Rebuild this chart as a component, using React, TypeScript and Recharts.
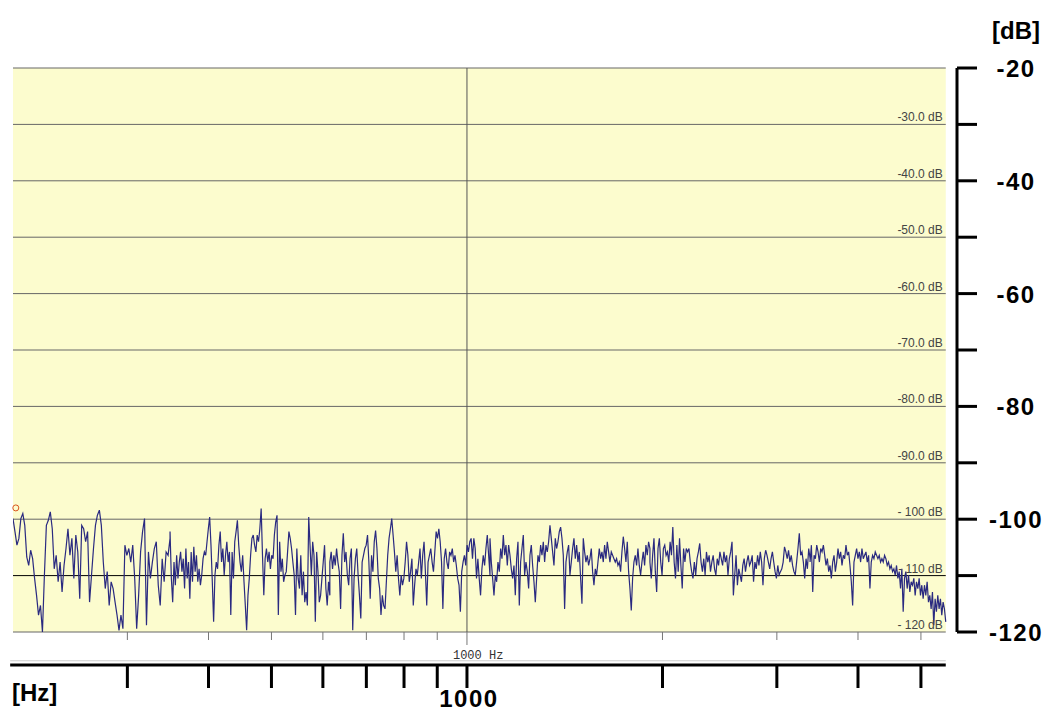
import React from 'react';
import { LineChart, Line, XAxis, YAxis, ReferenceLine, ReferenceArea, ReferenceDot } from 'recharts';

// spectrum, one array per stretch of the frequency axis
const bandEdgesHz = [200, 349, 615, 1085, 1913, 3375, 5460];

const db200to349 = [
  -99.9, -102.2, -104.6, -103.4, -99.9, -99.0, -101.1, -106.7, -108.2, -105.5,
  -107.0, -110.5, -113.5, -117.0, -115.3, -120.0, -109.9, -101.1, -100.2, -98.7,
  -101.7, -108.8, -106.4, -111.1, -107.6, -112.9, -108.2, -105.2, -101.7, -106.4,
  -103.4, -110.5, -102.8, -105.8, -114.1, -101.1, -101.7, -104.0, -102.2, -114.7,
  -109.9, -105.2, -101.1, -99.3, -98.4, -101.1, -107.6, -112.3, -109.3, -115.3,
  -111.1, -112.3, -114.7, -117.0, -119.7, -117.0, -119.4, -104.6, -106.4, -105.2,
  -107.6, -104.6, -110.5, -119.4, -113.5, -105.8, -102.2, -99.9, -118.8, -105.8,
  -110.5, -107.6, -105.2, -104.0, -111.7, -115.3, -107.0, -111.1, -105.8, -106.4,
  -103.4,
];

const db349to615 = [
  -102.2, -110.5, -114.7, -107.6, -111.7, -106.4, -110.5, -107.6, -105.8, -109.3,
  -107.0, -112.3, -105.2, -110.5, -107.6, -114.1, -105.8, -111.1, -104.9, -109.3,
  -106.4, -111.1, -108.8, -111.7, -109.9, -107.0, -105.8, -106.4, -104.0, -101.7,
  -99.6, -104.6, -111.1, -118.2, -109.9, -107.6, -108.8, -104.6, -102.2, -107.6,
  -105.2, -109.9, -106.4, -104.0, -107.6, -105.8, -117.0, -105.8, -110.5, -104.0,
  -102.2, -100.2, -104.6, -107.6, -109.3, -106.4, -111.1, -115.3, -119.7, -113.5,
  -110.5, -106.4, -103.4, -102.8, -104.6, -105.8, -102.8, -104.0, -101.7, -98.1,
  -106.4, -113.5, -107.0, -105.2, -107.6, -105.8, -108.8, -106.4, -107.0, -102.8,
  -100.5, -99.3, -117.0, -104.0, -109.3, -107.0, -111.1, -109.9, -109.3, -105.8,
  -102.2, -103.4, -105.2, -107.6, -109.9, -117.0, -105.2, -110.5, -112.3, -106.4,
  -113.5, -109.3, -114.7, -112.9, -115.3, -99.6, -104.6, -109.9, -104.0, -106.4,
  -118.2, -105.8, -109.3, -114.7, -113.5, -110.5, -107.6, -104.6, -112.3, -115.3,
  -111.1, -113.5,
];

const db615to1085 = [
  -107.6, -105.8, -108.8, -106.4, -108.2, -105.2, -107.6, -109.3, -115.9, -106.4,
  -102.5, -107.6, -105.8, -109.9, -111.7, -107.0, -105.2, -119.7, -110.5, -107.0,
  -105.2, -109.9, -113.5, -117.6, -107.6, -106.4, -105.2, -104.6, -102.8, -107.6,
  -114.1, -106.4, -109.3, -104.0, -102.0, -105.2, -110.5, -112.3, -117.0, -113.5,
  -115.3, -115.9, -111.1, -106.4, -103.4, -101.7, -99.9, -102.8, -105.8, -109.3,
  -106.4, -110.5, -113.5, -109.9, -111.7, -110.5, -107.6, -104.0, -106.4, -111.1,
  -109.3, -107.0, -115.3, -111.7, -108.8, -109.9, -107.6, -105.2, -110.5, -106.4,
  -104.0, -109.3, -115.3, -107.6, -106.4, -105.2, -107.6, -109.3, -105.8, -102.2,
  -103.4, -101.7, -104.0, -107.6, -115.9, -107.0, -105.2, -107.6, -108.8, -105.8,
  -106.4, -105.2, -107.6, -106.4, -108.2, -110.5, -111.7, -116.4, -109.3, -107.6,
  -106.4, -108.2, -104.6, -105.8, -104.0, -103.4, -107.0, -103.4, -105.2, -110.5,
  -107.0, -110.5, -113.5, -108.8, -106.4, -108.2, -105.2, -102.8, -106.4, -109.9,
];

const db1085to1913 = [
  -103.4, -107.6, -110.5, -113.5, -109.9, -111.1, -107.6, -109.3, -105.2, -107.0,
  -102.8, -106.4, -104.6, -108.2, -104.6, -106.4, -108.8, -110.5, -108.2, -113.5,
  -107.0, -104.0, -115.3, -107.6, -105.2, -102.8, -109.9, -107.6, -109.3, -112.3,
  -106.4, -104.6, -108.2, -111.1, -114.7, -110.5, -106.4, -107.6, -104.6, -106.4,
  -104.0, -107.6, -104.6, -105.8, -104.0, -101.1, -103.4, -105.8, -108.2, -103.4,
  -105.2, -104.0, -102.2, -101.4, -103.4, -106.4, -115.9, -107.6, -105.8, -104.6,
  -109.9, -107.6, -105.2, -103.4, -107.0, -104.6, -107.6, -105.8, -110.5, -115.0,
  -103.4, -105.8, -107.6, -106.4, -108.2, -107.0, -105.2, -109.3, -111.7, -108.8,
  -109.9, -107.6, -105.2, -107.0, -105.8, -107.6, -104.6, -107.0, -104.0, -105.8,
  -107.6, -105.8, -106.4, -107.0, -107.6, -107.0, -108.2, -107.6, -109.3, -105.8,
  -103.1, -105.2, -107.6, -104.0, -109.3, -112.3, -116.2, -110.5, -107.6, -106.4,
  -108.2, -105.2, -108.2, -109.9, -107.6, -105.8, -108.2, -104.6, -106.4, -104.0,
  -105.2,
];

const db1913to3375 = [
  -107.6, -110.5, -106.4, -103.4, -109.3, -112.9, -105.2, -103.4, -107.6, -109.9,
  -105.2, -104.6, -106.4, -105.8, -107.6, -104.0, -106.4, -101.4, -107.6, -110.5,
  -104.6, -109.3, -103.4, -108.2, -112.3, -105.2, -107.6, -105.2, -105.8, -105.2,
  -107.6, -109.3, -110.5, -107.6, -109.9, -107.0, -105.8, -104.3, -107.6, -109.3,
  -107.0, -109.9, -105.8, -107.6, -106.4, -109.3, -107.6, -106.4, -108.8, -109.9,
  -107.0, -108.2, -105.8, -107.0, -108.2, -105.8, -107.6, -106.4, -109.9, -107.0,
  -105.8, -104.0, -113.5, -109.9, -106.4, -111.7, -108.8, -109.9, -111.1, -108.2,
  -107.0, -109.3, -107.6, -106.4, -108.2, -107.6, -106.4, -111.1, -107.6, -108.8,
  -106.4, -108.2, -105.8, -107.6, -111.7, -107.0, -105.5, -106.4, -107.6, -108.8,
  -107.0, -105.8, -107.6, -109.3, -110.5, -108.2, -109.9, -109.3, -108.8, -107.6,
  -104.9, -105.8, -107.0, -105.5, -107.6, -106.4, -108.2, -109.3, -109.9, -107.6,
  -105.2, -102.5, -106.4, -105.8, -107.6, -110.5, -107.0, -108.8, -105.2, -107.0,
];

const db3375to5460 = [
  -107.6, -104.6, -112.9, -106.4, -107.0, -104.6, -105.8, -107.6, -105.2, -105.8,
  -104.6, -106.4, -108.2, -107.0, -109.3, -108.2, -110.5, -107.6, -106.4, -109.3,
  -107.6, -105.2, -107.0, -105.8, -108.2, -106.4, -107.0, -104.6, -106.4, -105.8,
  -108.2, -111.1, -115.3, -107.6, -106.4, -105.2, -107.0, -105.8, -107.6, -105.2,
  -107.0, -106.4, -105.8, -107.6, -106.4, -112.3, -107.6, -106.4, -107.0, -105.8,
  -106.4, -107.0, -106.4, -107.6, -107.0, -107.6, -106.4, -107.0, -108.2, -107.6,
  -108.8, -108.2, -109.3, -108.8, -109.9, -108.2, -110.5, -109.3, -112.3, -108.8,
  -116.4, -110.5, -109.3, -112.3, -109.9, -112.9, -111.1, -111.7, -110.5, -113.5,
  -111.1, -112.3, -110.5, -113.5, -111.7, -114.1, -111.7, -113.5, -111.1, -114.7,
  -113.5, -115.9, -112.9, -118.8, -114.1, -116.4, -113.5, -115.9, -114.1, -117.0,
  -114.7, -115.9, -118.2,
];

const dbBands = [db200to349, db349to615, db615to1085, db1085to1913, db1913to3375, db3375to5460];

// axis labels
const dbTicks = [-120, -110, -100, -90, -80, -70, -60, -50, -40, -30, -20];
const gridLevels = [-120, -110, -100, -90, -80, -70, -60, -50, -40, -30, -20];
const gridLabels = ['- 120 dB', '- 110 dB', '- 100 dB', '-90.0 dB', '-80.0 dB', '-70.0 dB', '-60.0 dB', '-50.0 dB', '-40.0 dB', '-30.0 dB', ''];
const hzTicks = [300, 400, 500, 600, 700, 800, 900, 1000, 2000, 3000, 4000, 5000];
const markerHz = 202;
const markerDb = -98;

const spectrum = dbBands.flatMap((vals, b) => {
  const lo = bandEdgesHz[b];
  const hi = bandEdgesHz[b + 1];
  return vals.map((db, i) => ({ f: lo * Math.pow(hi / lo, i / (vals.length - 1)), db }));
});

const BOLD = 'Arial, "Liberation Sans", sans-serif';

const DbTick = ({ x, y, payload }: any) => {
  if (payload.value % 20 !== 0) return null;
  return (
    <text x={x + 37} y={y + 9} textAnchor="middle" fontFamily={BOLD} fontWeight="bold" fontSize={24} letterSpacing={1.5} fill="#000">
      {payload.value}
    </text>
  );
};

const MinorHzTick = ({ x, y, payload }: any) => {
  const main = payload.value === 1000;
  return (
    <g>
      <line x1={x} y1={y} x2={x} y2={y + (main ? 13 : 8)} stroke="#777" strokeWidth={1} />
      {main && (
        <text x={x - 14} y={y + 27} fontFamily='"Liberation Mono", "Courier New", monospace' fontSize={12} fill="#333">
          1000 Hz
        </text>
      )}
    </g>
  );
};

const MajorHzTick = ({ x, y, payload }: any) => {
  if (payload.value !== 1000) return null;
  return (
    <text x={x + 2} y={y + 17} textAnchor="middle" fontFamily={BOLD} fontWeight="bold" fontSize={24} letterSpacing={1.5} fill="#000">
      1000
    </text>
  );
};

export default function App() {
  return (
    <div style={{ position: 'absolute', left: 0, top: 0, width: 1049, height: 711, background: '#fff' }}>
      <LineChart width={1049} height={711} data={spectrum} margin={{ top: 68, right: 0, bottom: 0, left: 13 }}>
        <XAxis
          xAxisId="b"
          dataKey="f"
          type="number"
          scale="log"
          domain={[200, 5682]}
          allowDataOverflow
          ticks={hzTicks}
          interval={0}
          height={46}
          axisLine={false}
          tickLine={{ stroke: '#000', strokeWidth: 3 }}
          tickSize={23}
          tick={<MajorHzTick />}
        />
        <XAxis
          xAxisId="a"
          dataKey="f"
          type="number"
          scale="log"
          domain={[200, 5682]}
          allowDataOverflow
          ticks={hzTicks}
          interval={0}
          height={33}
          axisLine={false}
          tickLine={false}
          tickSize={0}
          tickMargin={0}
          tick={<MinorHzTick />}
        />
        <YAxis
          orientation="right"
          type="number"
          domain={[-120, -20]}
          ticks={dbTicks}
          interval={0}
          width={92}
          axisLine={{ stroke: '#000', strokeWidth: 3 }}
          tickLine={{ stroke: '#000', strokeWidth: 3 }}
          tickSize={20}
          tick={<DbTick />}
        />
        <ReferenceArea xAxisId="a" x1={200} x2={5460} y1={-120} y2={-20} fill="#FCFCCE" fillOpacity={1} stroke="none" />
        {gridLevels.map((lvl, i) => (
          <ReferenceLine
            key={lvl}
            xAxisId="a"
            segment={[{ x: 200, y: lvl }, { x: 5460, y: lvl }]}
            stroke={lvl === -110 ? '#000' : '#666'}
            strokeWidth={1}
            label={{ value: gridLabels[i], position: 'insideBottomRight', offset: 3, fontSize: 12, fill: '#444', fontFamily: BOLD }}
          />
        ))}
        <ReferenceLine xAxisId="a" x={1000} stroke="#555" strokeWidth={1} />
        <ReferenceLine xAxisId="a" segment={[{ x: 198, y: -125.1 }, { x: 5460, y: -125.1 }]} stroke="#ccc" strokeWidth={1} ifOverflow="visible" />
        <ReferenceLine xAxisId="a" segment={[{ x: 198, y: -125.85 }, { x: 5460, y: -125.85 }]} stroke="#000" strokeWidth={3} ifOverflow="visible" />
        <ReferenceDot xAxisId="a" x={markerHz} y={markerDb} r={3} fill="none" stroke="#d9541e" strokeWidth={1} />
        <Line
          xAxisId="a"
          type="linear"
          dataKey="db"
          stroke="#2a2a80"
          strokeWidth={1.2}
          dot={false}
          isAnimationActive={false}
        />
      </LineChart>
      <div style={{ position: 'absolute', left: 992, top: 19, fontFamily: BOLD, fontWeight: 'bold', fontSize: 24, lineHeight: 1 }}>[dB]</div>
      <div style={{ position: 'absolute', left: 12, top: 681, fontFamily: BOLD, fontWeight: 'bold', fontSize: 24, lineHeight: 1 }}>[Hz]</div>
    </div>
  );
}
